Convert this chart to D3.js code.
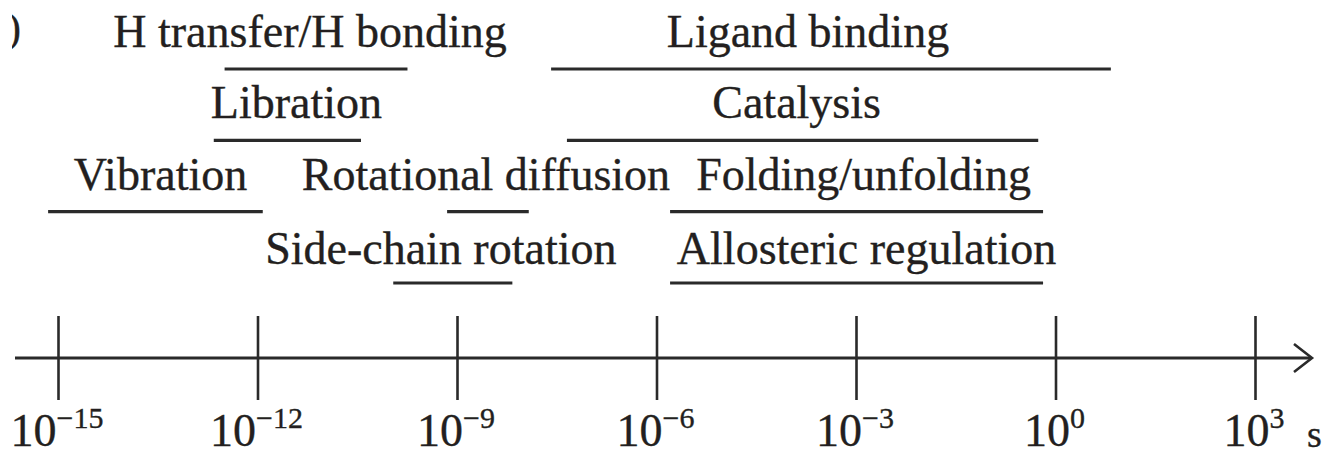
<!DOCTYPE html>
<html>
<head>
<meta charset="utf-8">
<script src="https://cdn.jsdelivr.net/npm/d3@7"></script>
<style>
  html, body { margin: 0; padding: 0; background: #ffffff; }
  svg { display: block; }
  text { font-family: "Liberation Serif", "Times New Roman", serif; fill: #231f20; stroke: #231f20; stroke-width: 0.35px; }
</style>
</head>
<body>
<svg id="chart" width="1331" height="456"></svg>
<script>
// ---- data ----
const processes = ["H transfer/H bonding", "Ligand binding", "Libration", "Catalysis",
                   "Vibration", "Rotational diffusion", "Folding/unfolding",
                   "Side-chain rotation", "Allosteric regulation"];
const rows      = [0, 0, 1, 1, 2, 2, 2, 3, 3];
const startSec  = [3.2e-13, 2.6e-8, 2.2e-13, 4.5e-8, 7.1e-16, 7.1e-10, 1.6e-6, 1.1e-10, 1.6e-6];
const endSec    = [1.8e-10, 6.8,    3.6e-11, 0.55,   1.2e-12, 1.2e-8,  0.65,   6.8e-9,  0.65];
const tickExps  = [-15, -12, -9, -6, -3, 0, 3];
const unitLabel = "s";

// ---- layout (not data) ----
const labelDx = [-6, -23, 9, -6, 5, -2, 7, -12, 10];
const axisY = 358;

const svg = d3.select("#chart");
const x = d3.scaleLog().domain([1e-15, 1e3]).range([58, 1255]);
const rowY = d3.scaleLinear().domain([0, 3]).range([69, 283]);
const baseOff = [22, 22, 22, 19];

const stroke = "#2a2a2a";

// cropped panel mark at top-left
svg.append("clipPath").attr("id", "clipMark")
  .append("rect").attr("x", 12).attr("y", 0).attr("width", 20).attr("height", 60);
svg.append("text").attr("clip-path", "url(#clipMark)")
  .attr("x", 21).attr("y", 42).attr("text-anchor", "end")
  .style("font-size", "42px").text(")");

// range bars
const items = processes.map((p, i) => ({ name: p, row: rows[i], s: startSec[i], e: endSec[i], dx: labelDx[i] }));

svg.append("g").selectAll("line").data(items).join("line")
  .attr("x1", d => x(d.s)).attr("x2", d => x(d.e))
  .attr("y1", d => rowY(d.row)).attr("y2", d => rowY(d.row))
  .attr("stroke", stroke).attr("stroke-width", 3.2);

svg.append("g").selectAll("text").data(items).join("text")
  .attr("x", d => (x(d.s) + x(d.e)) / 2 + d.dx)
  .attr("y", d => rowY(d.row) - baseOff[d.row])
  .attr("text-anchor", "middle")
  .style("font-size", "46px")
  .text(d => d.name);

// axis: ticks via d3.axisBottom crossing the line
const ax = d3.axisBottom(x)
  .tickValues(tickExps.map(e => Math.pow(10, e)))
  .tickSize(84).tickFormat("");
const axG = svg.append("g").attr("transform", `translate(0,${axisY - 42})`).call(ax);
axG.select(".domain").remove();
axG.selectAll(".tick line").attr("stroke", stroke).attr("stroke-width", 2.6);

// main axis line with open arrow head
svg.append("line").attr("x1", 15).attr("x2", 1311).attr("y1", axisY).attr("y2", axisY)
  .attr("stroke", stroke).attr("stroke-width", 3);
svg.append("path")
  .attr("d", `M1294,${axisY - 14} L1312,${axisY} L1294,${axisY + 14}`)
  .attr("fill", "none").attr("stroke", stroke).attr("stroke-width", 2.6);

// tick labels 10^n
const lab = svg.append("g").selectAll("text").data(tickExps).join("text")
  .attr("x", d => x(Math.pow(10, d)) - 1)
  .attr("y", 446)
  .attr("text-anchor", "middle")
  .style("font-size", "46px");
lab.append("tspan").text("10");
lab.append("tspan").attr("dy", -18).style("font-size", "30px")
  .text(d => d < 0 ? "\u2212" + Math.abs(d) : String(d));

// unit
svg.append("text").attr("x", 1307).attr("y", 447).style("font-size", "38px").text(unitLabel);
</script>
</body>
</html>
